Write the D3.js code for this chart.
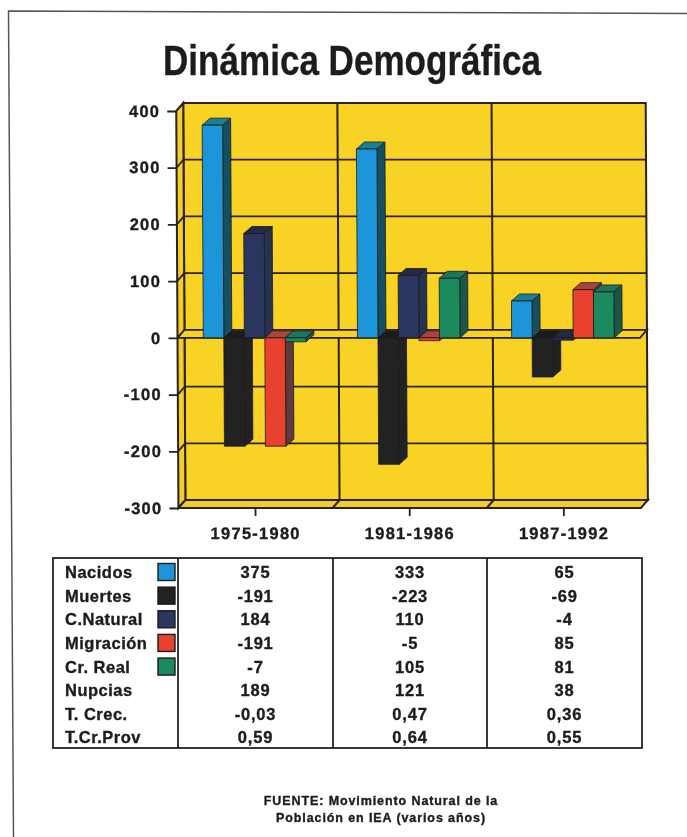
<!DOCTYPE html>
<html lang="es">
  <head>
    <meta charset="UTF-8" />
    <script src="https://cdnjs.cloudflare.com/ajax/libs/d3/7.8.5/d3.min.js"></script>
    <title>Dinámica Demográfica</title>
    <style>
      html, body { margin: 0; padding: 0; background: #fff; overflow: hidden; }
      svg { display: block; }
      text { font-family: "Liberation Sans", Arial, sans-serif; font-weight: bold; fill: #1c1c1c; stroke: #1c1c1c; stroke-width: 0.35; }
      .axis path { display: none; }
      .axis line { stroke: #222; stroke-width: 1.8; }
      .axis text { font-size: 16.5px; letter-spacing: 1.25px; }
    </style>
  </head>
  <body>
    <script>
      const periods = ["1975-1980", "1981-1986", "1987-1992"];
      const seriesNames = ["Nacidos", "Muertes", "C.Natural", "Migración", "Cr. Real"];
      const nacidos = [375, 333, 65];
      const muertes = [-191, -223, -69];
      const cNatural = [184, 110, -4];
      const migracion = [-191, -5, 85];
      const crReal = [-7, 105, 81];
      const nupcias = [189, 121, 38];
      const tCrec = ["-0,03", "0,47", "0,36"];
      const tCrProv = ["0,59", "0,64", "0,55"];
      const yTicks = [400, 300, 200, 100, 0, -100, -200, -300];

      const barValues = [nacidos, muertes, cNatural, migracion, crReal];
      const colors = ["#1c96d8", "#222222", "#2a3560", "#e8432e", "#1f8a5e"];
      const topColors = ["#1f7f94", "#1e1e1e", "#222a44", "#a8443c", "#1f7560"];
      const sideColors = ["#17505f", "#222222", "#27304f", "#5e3a3c", "#1c5548"];

      const tableRows = [
        { name: seriesNames[0], vals: nacidos, swatch: 0 },
        { name: seriesNames[1], vals: muertes, swatch: 1 },
        { name: seriesNames[2], vals: cNatural, swatch: 2 },
        { name: seriesNames[3], vals: migracion, swatch: 3 },
        { name: seriesNames[4], vals: crReal, swatch: 4 },
        { name: "Nupcias", vals: nupcias },
        { name: "T. Crec.", vals: tCrec },
        { name: "T.Cr.Prov", vals: tCrProv },
      ];

      const root = d3.select("body").append("svg").attr("width", 687).attr("height", 837);
      root.append("filter").attr("id", "scan")
        .append("feGaussianBlur").attr("stdDeviation", 0.35);
      const svg = root.append("g").attr("filter", "url(#scan)");
      const lineCol = "#2a2015";

      // page frame
      svg.append("path")
        .attr("d", "M13.5,837 L8.5,11 L687,13.5")
        .attr("fill", "none").attr("stroke", "#555").attr("stroke-width", 1.5);

      svg.append("text")
        .attr("x", 163).attr("y", 75)
        .attr("font-size", 42)
        .attr("textLength", 378).attr("lengthAdjust", "spacingAndGlyphs")
        .text("Dinámica Demográfica");

      // chart scales, front plane of the 3d box
      const x = d3.scaleBand().domain(periods).range([177.5, 640]);
      const y = d3.scaleLinear().domain([-300, 400]).range([508, 111]);
      const groupW = x.bandwidth() * 0.665;
      const inner = d3.scaleBand().domain(seriesNames)
        .range([(x.bandwidth() - groupW) / 2, (x.bandwidth() + groupW) / 2]);

      const wallDx = 7, wallDy = 8; // depth of the box
      const barDx = 8, barDy = 7; // depth of the bars

      const yellow = "#f8d327";
      // the verticals lean a little in the scan
      const lean = 0.0055;
      const chart = svg.append("g").attr("transform", `matrix(1,0,${lean},1,${-lean * y(0)},0)`);
      const box = chart.append("g");
      const x0 = x.range()[0], x1 = x.range()[1];
      const yBot = y(-300), yTop = y(400), yZero = y(0);

      box.append("rect") // back wall
        .attr("x", x0 + wallDx).attr("y", yTop - wallDy)
        .attr("width", x1 - x0).attr("height", yBot - yTop)
        .attr("fill", yellow).attr("stroke", lineCol).attr("stroke-width", 2);
      box.append("path") // left wall
        .attr("d", `M${x0},${yTop} L${x0 + wallDx},${yTop - wallDy} V${yBot - wallDy} L${x0},${yBot} Z`)
        .attr("fill", "#f3cd2c").attr("stroke", lineCol).attr("stroke-width", 2);
      box.append("path") // floor
        .attr("d", `M${x0},${yBot} L${x0 + wallDx},${yBot - wallDy} H${x1 + wallDx} L${x1},${yBot} Z`)
        .attr("fill", "#f3cd2c").attr("stroke", lineCol).attr("stroke-width", 2);

      // gridlines on the back wall and the left wall
      box.selectAll(".grid").data(yTicks.filter((d) => d !== 400 && d !== -300)).enter()
        .append("path").attr("class", "grid")
        .attr("d", (d) => `M${x0},${y(d)} L${x0 + wallDx},${y(d) - wallDy} H${x1 + wallDx}`)
        .attr("fill", "none").attr("stroke", lineCol).attr("stroke-width", 1.8);

      // period dividers
      box.selectAll(".divider").data(periods.slice(1)).enter()
        .append("path").attr("class", "divider")
        .attr("d", (d) => `M${x(d) + wallDx},${yTop - wallDy} V${yBot - wallDy} L${x(d)},${yBot}`)
        .attr("fill", "none").attr("stroke", lineCol).attr("stroke-width", 2);

      // zero plane
      box.append("path")
        .attr("d", `M${x0},${yZero} L${x0 + wallDx},${yZero - wallDy} H${x1 + wallDx} L${x1},${yZero} Z`)
        .attr("fill", yellow).attr("stroke", lineCol).attr("stroke-width", 1.8);

      // bars, painted series by series
      const bars = chart.append("g");
      periods.forEach((p, i) => {
        seriesNames.forEach((s, k) => {
          const v = barValues[k][i];
          const bx = x(p) + inner(s);
          const bw = inner.bandwidth();
          const top = y(Math.max(v, 0));
          const bot = y(Math.min(v, 0));
          const g = bars.append("g").attr("stroke", "#1a1a1a").attr("stroke-width", 0.8);
          g.append("path") // side
            .attr("d", `M${bx + bw},${top} l${barDx},${-barDy} V${bot - barDy} L${bx + bw},${bot} Z`)
            .attr("fill", sideColors[k]);
          g.append("path") // top
            .attr("d", `M${bx},${top} l${barDx},${-barDy} h${bw} l${-barDx},${barDy} Z`)
            .attr("fill", topColors[k]);
          g.append("rect") // front
            .attr("x", bx).attr("y", top)
            .attr("width", bw).attr("height", bot - top)
            .attr("fill", colors[k]);
        });
      });

      chart.append("g").attr("class", "axis")
        .attr("transform", `translate(${x0},0)`)
        .call(d3.axisLeft(y).tickValues(yTicks).tickFormat((d) => String(d)).tickSize(9).tickPadding(7));
      chart.append("g").attr("class", "axis")
        .attr("transform", `translate(0,${yBot})`)
        .call(d3.axisBottom(x).tickSize(8).tickPadding(11));

      // data table
      const colEdges = [53, 178, 333, 487, 642];
      const rowY = d3.scalePoint().domain(tableRows.map((r) => r.name)).range([572, 737.5]);
      const table = svg.append("g");
      table.append("rect")
        .attr("x", colEdges[0]).attr("y", 558)
        .attr("width", colEdges[4] - colEdges[0]).attr("height", 190)
        .attr("fill", "#fff").attr("stroke", "#222").attr("stroke-width", 1.8);
      table.selectAll("line").data(colEdges.slice(1, 4)).enter().append("line")
        .attr("x1", (d) => d).attr("x2", (d) => d)
        .attr("y1", 558).attr("y2", 748)
        .attr("stroke", "#222").attr("stroke-width", 1.8);

      const rows = table.selectAll(".row").data(tableRows).enter().append("g").attr("class", "row")
        .attr("transform", (d) => `translate(0,${rowY(d.name)})`);
      rows.append("text")
        .attr("x", 65).attr("dy", "0.36em")
        .attr("font-size", 16.5).attr("letter-spacing", 0.5)
        .text((d) => d.name);
      rows.filter((d) => d.swatch !== undefined).append("rect")
        .attr("x", 158).attr("y", -8.5).attr("width", 17).attr("height", 17)
        .attr("fill", (d) => colors[d.swatch])
        .attr("stroke", "#1a1a1a").attr("stroke-width", 1.4);
      periods.forEach((p, i) => {
        rows.append("text")
          .attr("x", (colEdges[i + 1] + colEdges[i + 2]) / 2)
          .attr("dy", "0.36em").attr("text-anchor", "middle")
          .attr("font-size", 16.5).attr("letter-spacing", 0.8)
          .text((d) => d.vals[i]);
      });

      // source note
      svg.selectAll(".source")
        .data(["FUENTE: Movimiento Natural de la", "Población en IEA (varios años)"])
        .enter().append("text").attr("class", "source")
        .attr("x", 381).attr("y", (d, i) => 805 + i * 17)
        .attr("text-anchor", "middle")
        .attr("font-size", 12.5).attr("letter-spacing", 0.9)
        .text((d) => d);
    </script>
  </body>
</html>
